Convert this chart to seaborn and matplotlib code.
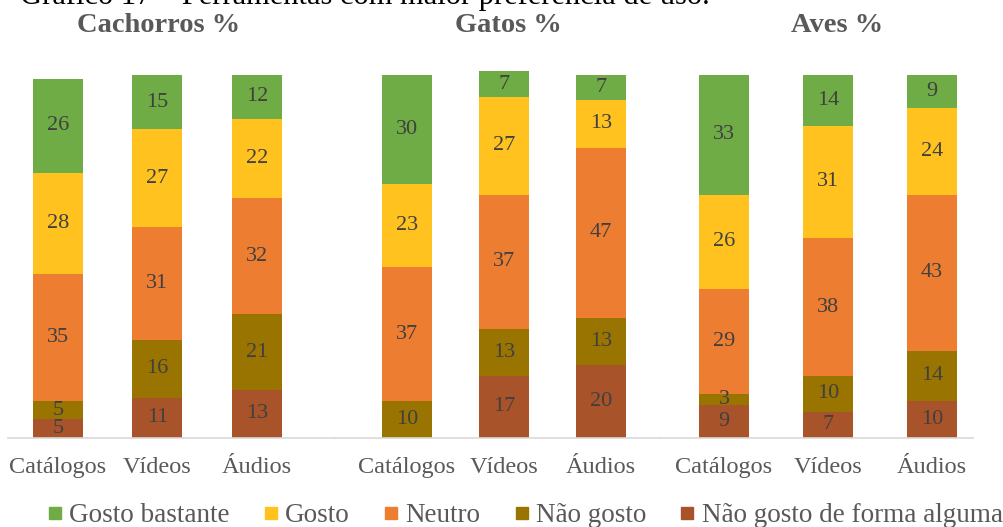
import numpy as np
import pandas as pd
import matplotlib
matplotlib.use("Agg")
import matplotlib.pyplot as plt
from matplotlib.lines import Line2D
import seaborn as sns

# Data (percent), stacked bottom -> top
tools = ["Catálogos", "Vídeos", "Áudios"]
levels = ["Gosto bastante", "Gosto", "Neutro", "Não gosto", "Não gosto de forma alguma"]
panels = ["Cachorros %", "Gatos %", "Aves %"]

cachorros_gosto_bastante = [26, 15, 12]
cachorros_gosto = [28, 27, 22]
cachorros_neutro = [35, 31, 32]
cachorros_nao_gosto = [5, 16, 21]
cachorros_nao_gosto_nada = [5, 11, 13]

gatos_gosto_bastante = [30, 7, 7]
gatos_gosto = [23, 27, 13]
gatos_neutro = [37, 37, 47]
gatos_nao_gosto = [10, 13, 13]
gatos_nao_gosto_nada = [0, 17, 20]

aves_gosto_bastante = [33, 14, 9]
aves_gosto = [26, 31, 24]
aves_neutro = [29, 38, 43]
aves_nao_gosto = [3, 10, 14]
aves_nao_gosto_nada = [9, 7, 10]

panel_data = [
    [cachorros_gosto_bastante, cachorros_gosto, cachorros_neutro, cachorros_nao_gosto, cachorros_nao_gosto_nada],
    [gatos_gosto_bastante, gatos_gosto, gatos_neutro, gatos_nao_gosto, gatos_nao_gosto_nada],
    [aves_gosto_bastante, aves_gosto, aves_neutro, aves_nao_gosto, aves_nao_gosto_nada],
]

colors = ["#6FAC46", "#FFC21E", "#ED7D31", "#9A7400", "#A9532A"]

sns.set_theme(style="white")
plt.rcParams["font.family"] = ["Liberation Serif", "DejaVu Serif"]

W, H = 1004, 527
fig = plt.figure(figsize=(W / 100, H / 100), dpi=100)

# panel geometry in pixels: axes left/right edges and bar centres
geom = [
    (8, 335, (58, 257)),
    (335, 660, (407, 601)),
    (660, 973, (724, 932)),
]
base_px, top_px = 437.5, 75.0
bar_px = 50
title_x = [159, 508, 837]

ymax = 101
ax_h = (base_px - top_px) * ymax / 100

for p, (left, right, (c0, c2)) in enumerate(geom):
    step = (c2 - c0) / 2
    ax = fig.add_axes([left / W, (H - base_px) / H, (right - left) / W, ax_h / H])
    vals = np.array(panel_data[p], dtype=float)  # rows: levels top->bottom
    bottom_up = vals[::-1]
    cum = np.cumsum(bottom_up, axis=0)  # cumulative from bottom
    # draw tallest first so lower segments overlay
    for k in range(len(levels) - 1, -1, -1):
        df = pd.DataFrame({"tool": tools, "value": cum[k]})
        lvl_idx = len(levels) - 1 - k
        sns.barplot(data=df, x="tool", y="value", order=tools, color=colors[lvl_idx],
                    saturation=1, width=bar_px / step, errorbar=None, ax=ax,
                    linewidth=0, edgecolor="none", zorder=2)
    # value labels centred in each segment
    for k in range(len(levels)):
        lo = cum[k - 1] if k > 0 else np.zeros(3)
        for i in range(3):
            v = bottom_up[k][i]
            if v <= 0:
                continue
            ax.text(i, lo[i] + v / 2, f"{int(v)}", ha="center", va="center",
                    fontsize=16, color="#404040", zorder=5)
    ax.set_xlim((left - c0) / step, (right - c0) / step)
    ax.set_ylim(0, ymax)
    ax.set_yticks([])
    ax.set_xlabel("")
    ax.set_ylabel("")
    for s in ["top", "left", "right"]:
        ax.spines[s].set_visible(False)
    ax.spines["bottom"].set_color("#D9D9D9")
    ax.spines["bottom"].set_linewidth(1.2)
    ax.tick_params(axis="x", length=0, pad=14, labelsize=17.5, labelcolor="#595959")
    ax.patch.set_alpha(0)
    fig.text(title_x[p] / W, 1 - 25 / H, panels[p], ha="center", va="center",
             fontsize=20.5, fontweight="bold", color="#595959")

# caption line running off the top edge
fig.text(20 / W, 1 - 4 / H, "Gráfico 17 – Ferramentas com maior preferência de uso.",
         ha="left", va="baseline", fontsize=22, color="black")

handles = [Line2D([0], [0], marker="s", linestyle="none", markersize=9,
                  markerfacecolor=c, markeredgecolor=c) for c in colors]
fig.legend(handles, levels, loc="center", bbox_to_anchor=(525 / W, 1 - 516 / H),
           ncol=5, frameon=False, fontsize=19.5, labelcolor="#595959",
           handlelength=0.55, handletextpad=0.25, columnspacing=1.25, borderpad=0)

fig.savefig("out.png", dpi=100)
